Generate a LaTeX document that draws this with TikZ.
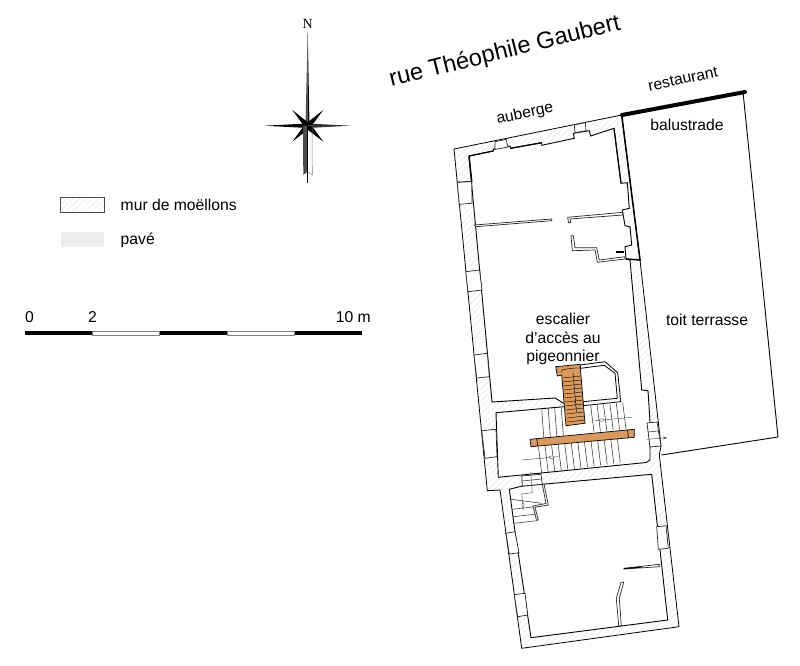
\documentclass[tikz,border=0pt]{standalone}
\usepackage{fontspec}
\setmainfont{Liberation Sans}
\usetikzlibrary{patterns.meta,arrows.meta}
\definecolor{bois}{HTML}{D99A5B}
\tikzset{
  mur/.style={draw=black,line width=0.8pt,pattern={Lines[angle=45,distance=4.5pt,line width=0.3pt]},pattern color=gray!28},
  piece/.style={draw=black,line width=0.9pt,fill=white},
  cloison/.style={draw=black!85,line width=0.7pt,fill=white},
  marche/.style={draw=black!80,line width=0.55pt},
  fleche/.style={draw=black!65,line width=0.5pt},
  petit/.style={font=\fontsize{15.7}{20}\selectfont,inner sep=0pt}
}
\begin{document}
\begin{tikzpicture}[x=1pt,y=-1pt]
\useasboundingbox (0,0) rectangle (800,666);
% terrace
\draw [line width = 0.9pt] (743,92) -- (778,437) -- (661.5,455);
\draw [line width = 4pt,line cap=round] (622,115) -- (745,92);
% walls
\path [mur] (454,149) -- (621.7,115) -- (640,260) -- (661,446) -- (659.3,455) -- (679,626.7) -- (521.7,648.3) -- (500,490) -- (487.3,490.7) -- cycle;
% upper room and stair hall
\path [piece] (469,156) -- (493.3,151) -- (493.3,149) -- (510,146) -- (510.7,148.3) -- (541.7,142.7) -- (541.7,145.3) -- (574.3,138.3) -- (573.3,133.3) -- (589.3,130.7) -- (590.7,136) -- (614,128.3) -- (621,183.3) -- (627.3,182.7) -- (629.3,208.3) -- (622.3,210) -- (625,225.7) -- (630,226.7) -- (631.7,245) -- (625,246.7) -- (626,259) -- (630,260) -- (641.7,390) -- (648,390.7) -- (650,422) -- (650,447) -- (650,460) -- (646,462.5) -- (498.3,477.3) -- (496,412.7) -- (572,406) -- (572,405) -- (563,403) -- (555,398) -- (492,402) -- cycle;
% lower room
\path [piece] (509.3,489.3) -- (522.3,486) -- (542.3,484.3) -- (651.7,474.3) -- (667.7,620) -- (531,637.7) -- (515,531.7) -- cycle;
% heavy lines
\draw [line width = 1.5pt] (621.7,115) -- (640,260) -- (626,259);
\draw [line width = 1.5pt] (469,156) -- (471.7,181.7) -- (458,182.5);
\draw [line width = 1.2pt] (469,156) -- (493.3,151);
\draw [line width = 1.2pt] (510.7,148.3) -- (541.7,142.7);
\draw [line width = 1.2pt] (614,128.3) -- (621,183.3);
% windows in the walls
\foreach \xa/\ya/\xb/\yb/\xc/\yc/\xd/\yd in {
  457.3/182.3/471.7/181.7/472/203.3/459.3/204.3,
  465.8/271.7/479.5/270/482/290/468/291.7,
  474/355/487.3/353.3/489.3/376.7/476.7/378,
  481.7/430.7/496/429.3/497/456.7/485/458.3,
  506/533.3/515/531.7/519/552.7/509.3/554,
  514.3/594.7/525/593.3/527.7/615/517.7/616.7,
  656.7/526.7/666/525.7/668.3/548.3/658.3/549.3,
  495/141.7/506/139.3/508/147/495/149.5,
  574.3/125/585.3/122.7/586/130.7/575/132.7,
  647/423/657/422/661/446/650/447,
  521.7/476/541/474.3/542.3/484.3/522.3/486}
  \path [cloison] (\xa,\ya) -- (\xb,\yb) -- (\xc,\yc) -- (\xd,\yd) -- cycle;
% partitions
\path [cloison] (474.3,225) -- (551.7,219) -- (551.7,220.7) -- (475.7,226.7) -- cycle;
\path [cloison] (567.7,217.3) -- (622.7,212.3) -- (622.7,215) -- (570,219) -- (570.7,222.7) -- (568.5,222.7) -- cycle;
\path [cloison] (571,235.7) -- (573.3,235.7) -- (575,247.7) -- (596.7,247.7) -- (599.3,260) -- (625,256.7) -- (625,259) -- (597.3,262.3) -- (595,250) -- (572.3,250.7) -- cycle;
\draw [line width = 1.8pt] (616,251.7) -- (624,251.7);
\path [cloison] (624,568.3) -- (659.3,564.3) -- (659.3,566.7) -- (624,569) -- cycle;
\draw [line width = 1pt] (624,568.6) -- (642,567);
\path [cloison] (621,582.3) -- (623.7,582.3) -- (619.3,598.3) -- (621.3,625.7) -- (618.7,626) -- (616.3,598.3) -- cycle;
% wall round the stair
\path [mur] (580,365) -- (605,361.7) -- (617.7,372.7) -- (620.7,401.7) -- (583,405.7) -- (583,401.7) -- (617.3,398.3) -- (615,373.3) -- (604.3,365.3) -- (580.7,368.3) -- cycle;
% stair treads in the hall
\foreach \x in {0,1,2,3}
  \draw [marche] (541.7+6.5*\x,409.5-0.6*\x) -- (544+6.5*\x,440-0.6*\x);
\foreach \x in {0,...,5}
  \draw [marche] (590.7+6.4*\x,405.7-0.6*\x) -- (594+6.4*\x,432-0.6*\x);
\foreach \x in {0,...,12}
  \draw [marche] (538.5+6.55*\x,447-0.85*\x) -- (541.7+6.55*\x,473.5-0.9*\x);
\draw [fleche] (595,420.7) -- (631.7,417.3);
\draw [fleche,fill=white] (601.5,420) ellipse (2pt and 1.3pt);
\draw [fleche] (521.7,460) -- (558.3,456.7);
\draw [fleche,fill=white] (551.7,457.3) ellipse (2.5pt and 1.3pt);
% stair to the lower room
\draw [marche] (648,432) -- (658,431);
\draw [fleche,-{Stealth[length=4pt,width=3pt]}] (647,439.3) -- (667,437.7);
\draw [marche] (522,481) -- (542,479);
\draw [marche] (511,499.3) -- (541.7,503.3);
\draw [marche] (512.3,509.3) -- (535,506.7);
\draw [marche] (513.3,516.7) -- (535,514.3);
\draw [marche] (514.3,523.3) -- (536.7,520.7);
\draw [fleche] (530.7,471.7) -- (532.3,492.7) -- (521.7,494) -- (523.3,510);
\draw [fleche,fill=white] (523,505) ellipse (1pt and 2.5pt);
\path [cloison] (542.3,484.3) -- (544,484) -- (548.3,505) -- (535,507.3) -- (538.3,520) -- (536.5,520.3) -- (533,506) -- (546,503.5) -- cycle;
% wooden stair and beam
\path [draw=black,line width=0.7pt,fill=bois] (555.7,366.7) -- (580,364.3) -- (585,423.3) -- (566,425.7) -- (561.7,375) -- (557.3,376) -- cycle;
\draw [line width = 0.4pt] (561,372) -- (563,369.5) -- (575,368) -- (580,368);
\foreach \x in {0,...,11}
  \draw [line width = 0.4pt] (562.3+0.45*\x,378+4*\x) -- (581+0.35*\x,376+4*\x);
\draw [line width = 0.4pt] (573,373) -- (576.5,412);
\draw [line width = 0.4pt,fill=white] (575,400) -- (576,404) -- (575.5,405.5) -- (574.7,404) -- cycle;
\path [draw=black,line width=0.7pt,fill=bois] (530,439.3) -- (634.3,429.3) -- (634.3,437.3) -- (531,446.7) -- cycle;
\draw [line width = 0.7pt] (536.7,438.7) -- (537.7,446) (627.7,430) -- (628.3,437.8);
% compass
\fill [black!70] (307.7,31.7) -- (305.5,125.7) -- (307.7,125.7) -- cycle;
\fill [black] (307.7,31.7) -- (309.5,125.7) -- (307.7,125.7) -- cycle;
\fill [black] (264.3,125.7) -- (307.7,123.5) -- (307.7,128) -- cycle;
\fill [black!80] (350.7,125.7) -- (307.7,123.5) -- (307.7,128) -- cycle;
\fill [black] (292.3,110) -- (310,124) -- (305.5,128) -- cycle;
\fill [black] (323.3,110) -- (305.5,124) -- (310,128) -- cycle;
\fill [black] (292.3,141.7) -- (305.5,123.5) -- (310,128) -- cycle;
\fill [black] (323.3,141.7) -- (310,123.5) -- (305.5,128) -- cycle;
\fill [black!70] (303,125.7) -- (307.7,125.7) -- (307.7,171.7) -- (303.3,175) -- cycle;
\draw [black!50,line width=0.5pt] (307.7,125.7) -- (312,125.7) -- (312.3,175) -- (307.7,171.7);
\draw [line width = 0.7pt] (307.7,125) -- (307.7,183);
\node[inner sep=0pt,font=\fontspec{Liberation Serif}\fontsize{14}{15}\selectfont] (label_n) at (307.7,24) {N};
% legend
\path [draw=black!70,line width=0.9pt,pattern={Lines[angle=45,distance=4.5pt,line width=0.3pt]},pattern color=gray!28] (60,197.3) rectangle (104.3,212.7);
\fill [black!7] (60.7,231.7) rectangle (104.3,247.3);
\node[petit,anchor=west] (label_mur) at (120.5,205) {mur de moëllons};
\node[petit,anchor=west] (label_pave) at (120.5,240) {pavé};
% scale
\fill [black] (25,330.7) rectangle (92.7,335.3);
\fill [black] (159.3,330.7) rectangle (227.3,335.3);
\fill [black] (294.3,330.7) rectangle (362.3,335.3);
\draw [black!50,line width=0.7pt] (92.7,331) rectangle (159.3,335);
\draw [black!50,line width=0.7pt] (227.3,331) rectangle (294.3,335);
\node[petit] (label_s0) at (29.5,317) {0};
\node[petit] (label_s2) at (92.5,317) {2};
\node[petit,anchor=east] (label_s10) at (371,317) {10 m};
% labels
\node[inner sep=0pt,rotate=14,font=\fontsize{23.7}{25}\selectfont] (label_rue) at (505,52) {rue Théophile Gaubert};
\node[petit,rotate=12] (label_auberge) at (525,114) {auberge};
\node[petit,rotate=12] (label_restaurant) at (683,79) {restaurant};
\node[petit] (label_balustrade) at (687,125) {balustrade};
\node[petit] (label_toit) at (707,320) {toit terrasse};
\node[petit,align=center,font=\fontsize{15.7}{18.8}\selectfont] (label_escalier) at (563,339) {escalier\\d'accès au\\pigeonnier};
\end{tikzpicture}
\end{document}
